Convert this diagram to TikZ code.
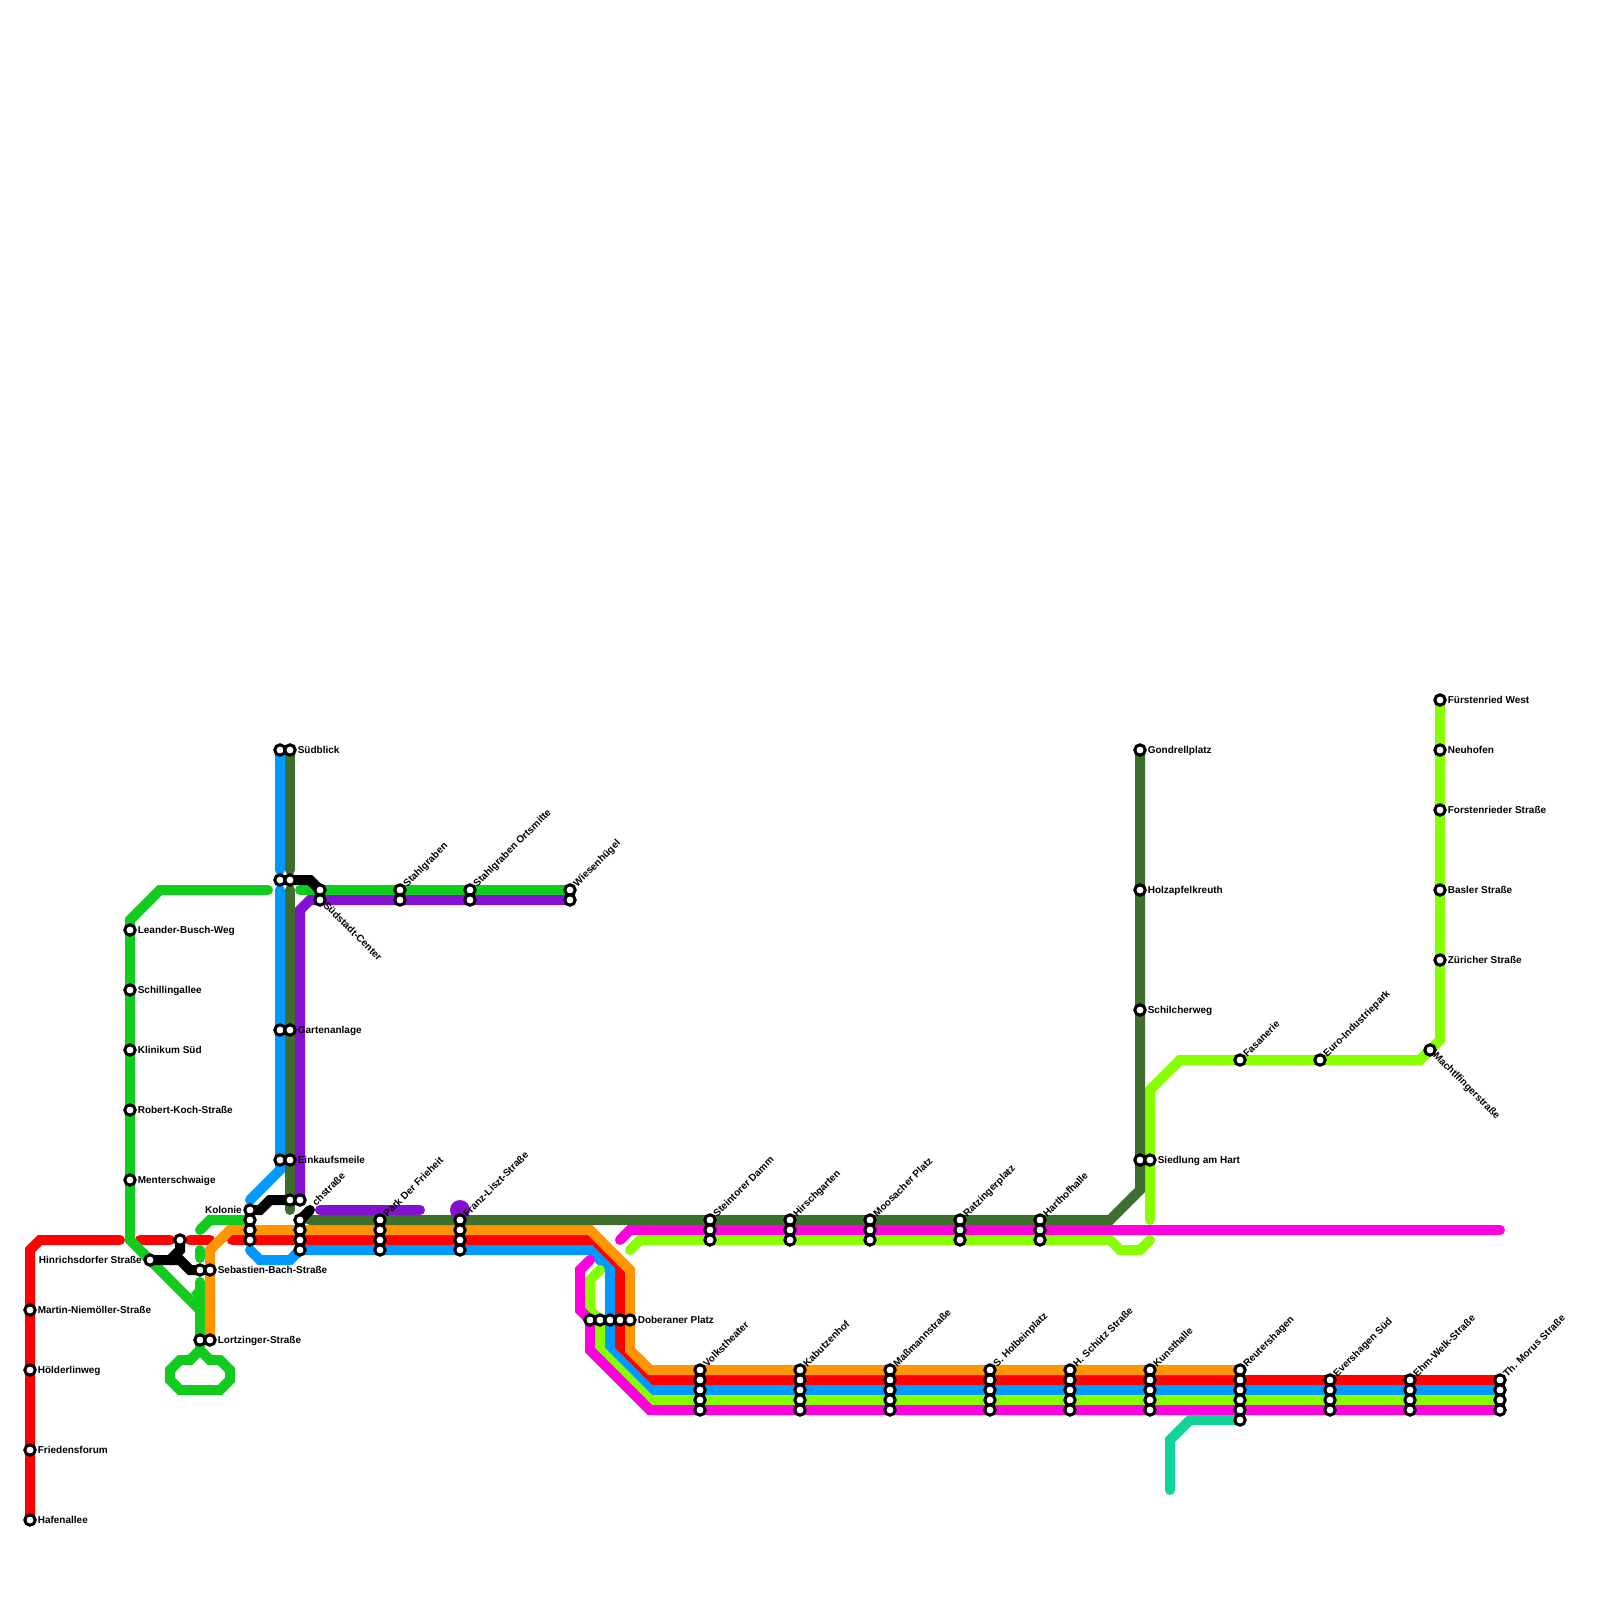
\documentclass[tikz,border=0pt]{standalone}
\usepackage{fontspec}
\setmainfont{Liberation Sans}[BoldFont={Liberation Sans Bold}]
\definecolor{cRed}{HTML}{FF0000}
\definecolor{cGreen}{HTML}{11CC1E}
\definecolor{cBlue}{HTML}{0099FF}
\definecolor{cDark}{HTML}{3D6E2E}
\definecolor{cPurple}{HTML}{8511D0}
\definecolor{cOrange}{HTML}{FF9500}
\definecolor{cLime}{HTML}{88FF00}
\definecolor{cMagenta}{HTML}{FF00DD}
\definecolor{cTurq}{HTML}{11D499}
\tikzset{
  route/.style={line width=5pt,line cap=round,line join=miter,miter limit=4},
  stn/.style={circle,draw=black,fill=white,line width=1.5pt,minimum size=5.2pt,inner sep=0pt},
  lbl/.style={inner sep=0pt,font=\fontsize{5pt}{6pt}\selectfont\bfseries,text=black},
  lblR/.style={lbl,anchor=base west,xshift=3.7pt,yshift=-1.5pt},
  lblL/.style={lbl,anchor=base east,xshift=-3.9pt,yshift=-1.5pt},
  lblU/.style={lbl,anchor=base west,rotate=45,xshift=3.3pt,yshift=-1.7pt},
  lblD/.style={lbl,anchor=base west,rotate=-45,xshift=3pt,yshift=-1.2pt}
}
\begin{document}
\begin{tikzpicture}[x=0.5pt,y=-0.5pt]
\useasboundingbox (0,0) rectangle (1600,1600);
% station positions
\foreach \n/\x/\y in {
 haf/30/1520,fri/30/1450,hoe/30/1370,mar/30/1310,
 lea/130/930,sch/130/990,kli/130/1050,rob/130/1110,men/130/1180,
 xa/180/1240,hin/150/1260,sebA/200/1270,sebB/210/1270,lorA/200/1340,lorB/210/1340,
 kolA/250/1210,kolB/250/1220,kolC/250/1230,kolD/250/1240,
 sbA/280/750,sbB/290/750,xbA/280/880,xbB/290/880,garA/280/1030,garB/290/1030,einA/280/1160,einB/290/1160,
 xcA/290/1200,xcB/300/1200,bacA/300/1220,bacB/300/1230,bacC/300/1240,bacD/300/1250,
 sudA/320/890,sudB/320/900,stA/400/890,stB/400/900,orA/470/890,orB/470/900,wiA/570/890,wiB/570/900,
 parA/380/1220,parB/380/1230,parC/380/1240,parD/380/1250,
 frA/460/1220,frB/460/1230,frC/460/1240,frD/460/1250,
 dobA/590/1320,dobB/600/1320,dobC/610/1320,dobD/620/1320,dobE/630/1320,
 steA/710/1220,steB/710/1230,steC/710/1240,
 hirA/790/1220,hirB/790/1230,hirC/790/1240,
 mooA/870/1220,mooB/870/1230,mooC/870/1240,
 ratA/960/1220,ratB/960/1230,ratC/960/1240,
 harA/1040/1220,harB/1040/1230,harC/1040/1240,
 volA/700/1370,volB/700/1380,volC/700/1390,volD/700/1400,volE/700/1410,
 kabA/800/1370,kabB/800/1380,kabC/800/1390,kabD/800/1400,kabE/800/1410,
 mamA/890/1370,mamB/890/1380,mamC/890/1390,mamD/890/1400,mamE/890/1410,
 holA/990/1370,holB/990/1380,holC/990/1390,holD/990/1400,holE/990/1410,
 schA/1070/1370,schB/1070/1380,schC/1070/1390,schD/1070/1400,schE/1070/1410,
 kunA/1150/1370,kunB/1150/1380,kunC/1150/1390,kunD/1150/1400,kunE/1150/1410,
 reuA/1240/1370,reuB/1240/1380,reuC/1240/1390,reuD/1240/1400,reuE/1240/1410,reuF/1240/1420,
 eveA/1330/1380,eveB/1330/1390,eveC/1330/1400,eveD/1330/1410,
 ehmA/1410/1380,ehmB/1410/1390,ehmC/1410/1400,ehmD/1410/1410,
 thmA/1500/1380,thmB/1500/1390,thmC/1500/1400,thmD/1500/1410,
 gon/1140/750,hol/1140/890,scw/1140/1010,sieA/1140/1160,sieB/1150/1160,
 fas/1240/1060,eur/1320/1060,mac/1430/1050,
 fue/1440/700,neu/1440/750,foe/1440/810,bas/1440/890,zue/1440/960}
 {\coordinate (\n) at (\x,\y);}
% red
\draw[route,cRed] (haf) -- (30,1250) -- (40,1240) -- (120,1240);
\draw[route,cRed] (140,1240) -- (170,1240);
\draw[route,cRed] (190,1240) -- (210,1240);
\draw[route,cRed] (232,1240) -- (590,1240) -- (620,1270) -- (620,1350) -- (650,1380) -- (thmA);
% green
\draw[route,cGreen] (268,890) -- (160,890) -- (130,920) -- (130,1240) -- (200,1310);
\draw[route,cGreen] (300,890) -- (wiA);
\draw[route,cGreen] (200,1250) -- (200,1258);
\draw[route,cGreen] (200,1282) -- (200,1350) -- (190,1360) -- (180,1360) -- (170,1370) -- (170,1380) -- (180,1390) -- (220,1390) -- (230,1380) -- (230,1370) -- (220,1360) -- (210,1360) -- (200,1350);
\fill[cGreen] (196,1288) -- (191,1293) -- (196,1299) -- cycle;
\draw[route,cGreen] (200,1230) -- (210,1220) -- (kolB);
% orange
\draw[route,cOrange] (lorB) -- (210,1250) -- (230,1230) -- (590,1230) -- (630,1270) -- (630,1350) -- (650,1370) -- (reuA);
% blue
\draw[route,cBlue] (sbA) -- (280,870);
\draw[route,cBlue] (280,890) -- (einA) -- (280,1170) -- (250,1200);
\draw[route,cBlue] (250,1250) -- (260,1260) -- (290,1260) -- (300,1250) -- (590,1250) -- (610,1270) -- (610,1350) -- (650,1390) -- (thmB);
% lime
\draw[route,cLime] (600,1270) -- (590,1280) -- (590,1310) -- (600,1320) -- (600,1350) -- (650,1400) -- (thmC);
\draw[route,cLime] (630,1250) -- (640,1240) -- (1110,1240) -- (1120,1250) -- (1140,1250) -- (1150,1240);
\draw[route,cLime] (1150,1220) -- (1150,1090) -- (1180,1060) -- (1420,1060) -- (1440,1040) -- (fue);
% magenta
\draw[route,cMagenta] (590,1260) -- (580,1270) -- (580,1310) -- (590,1320) -- (590,1350) -- (650,1410) -- (thmD);
\draw[route,cMagenta] (620,1240) -- (630,1230) -- (1500,1230);
% dark green
\draw[route,cDark] (sbB) -- (290,870);
\draw[route,cDark] (290,890) -- (290,1210);
\draw[route,cDark] (310,1220) -- (1110,1220) -- (1140,1190) -- (gon);
% purple
\draw[route,cPurple] (xcB) -- (300,910) -- (310,900) -- (wiB);
\draw[route,cPurple] (320,1210) -- (420,1210);
\fill[cPurple] (460,1210) circle[radius=10];
% turquoise
\draw[route,cTurq] (1170,1490) -- (1170,1440) -- (1190,1420) -- (reuF);
% black
\draw[route,black] (kolA) -- (260,1210) -- (270,1200) -- (xcB);
\draw[route,black] (bacA) -- (310,1210);
\draw[route,black] (xbA) -- (310,880) -- (sudA);
\draw[route,black] (hin) -- (170,1260) -- (180,1250) -- (xa);
\draw[route,black] (170,1260) -- (180,1260) -- (190,1270) -- (sebA);
% stations
\foreach \n in {haf,fri,hoe,mar,lea,sch,kli,rob,men,xa,hin,sebA,sebB,lorA,lorB,kolA,kolB,kolC,kolD,
 sbA,sbB,xbA,xbB,garA,garB,einA,einB,xcA,xcB,bacA,bacB,bacC,bacD,sudA,sudB,stA,stB,orA,orB,wiA,wiB,
 parA,parB,parC,parD,frA,frB,frC,frD,dobA,dobB,dobC,dobD,dobE,
 steA,steB,steC,hirA,hirB,hirC,mooA,mooB,mooC,ratA,ratB,ratC,harA,harB,harC,
 volA,volB,volC,volD,volE,kabA,kabB,kabC,kabD,kabE,mamA,mamB,mamC,mamD,mamE,
 holA,holB,holC,holD,holE,schA,schB,schC,schD,schE,kunA,kunB,kunC,kunD,kunE,
 reuA,reuB,reuC,reuD,reuE,reuF,eveA,eveB,eveC,eveD,ehmA,ehmB,ehmC,ehmD,thmA,thmB,thmC,thmD,
 gon,hol,scw,sieA,sieB,fas,eur,mac,fue,neu,foe,bas,zue}
 {\node[stn] (n\n) at (\n) {};}
% labels right
\foreach \n/\t in {haf/Hafenallee,fri/Friedensforum,hoe/Hölderlinweg,mar/Martin-Niemöller-Straße,
 lea/Leander-Busch-Weg,sch/Schillingallee,kli/Klinikum Süd,rob/Robert-Koch-Straße,men/Menterschwaige,
 sebB/Sebastien-Bach-Straße,lorB/Lortzinger-Straße,sbB/Südblick,garB/Gartenanlage,einB/Einkaufsmeile,
 dobE/Doberaner Platz,gon/Gondrellplatz,hol/Holzapfelkreuth,scw/Schilcherweg,sieB/Siedlung am Hart,
 fue/Fürstenried West,neu/Neuhofen,foe/Forstenrieder Straße,bas/Basler Straße,zue/Züricher Straße}
 {\node[lblR] (l\n) at (\n) {\t};}
% labels left
\node[lblL] (lkolA) at (kolA) {Kolonie};
\node[lblL] (lhin) at (hin) {Hinrichsdorfer Straße};
% labels diagonal up
\foreach \n/\t in {stA/Stahlgraben,orA/Stahlgraben Ortsmitte,wiA/Wiesenhügel,parA/Park Der Frieheit,frA/Franz-Liszt-Straße,
 steA/Steintorer Damm,hirA/Hirschgarten,mooA/Moosacher Platz,ratA/Ratzingerplatz,harA/Harthofhalle,
 volA/Volkstheater,kabA/Kabutzenhof,mamA/Maßmannstraße,holA/S. Holbeinplatz,schA/H. Schütz Straße,kunA/Kunsthalle,
 reuA/Reutershagen,eveA/Evershagen Süd,ehmA/Ehm-Welk-Straße,thmA/Th. Morus Straße,fas/Fasanerie,eur/Euro-Industriepark}
 {\node[lblU] (l\n) at (\n) {\t};}
\node[lbl,anchor=base west,rotate=45] (lbac) at (316,1206.5) {chstraße};
% labels diagonal down
\node[lblD] (lsud) at (sudB) {Südstadt-Center};
\node[lblD] (lmac) at (mac) {Machtlfingerstraße};
\end{tikzpicture}
\end{document}
